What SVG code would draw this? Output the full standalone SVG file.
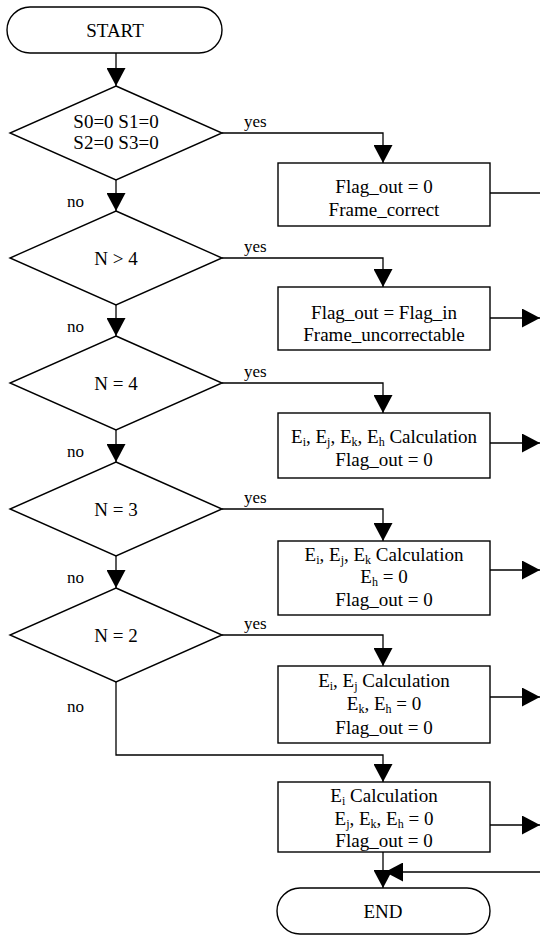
<svg xmlns="http://www.w3.org/2000/svg" width="540" height="937" viewBox="0 0 540 937">
<style>
.sh{fill:#fff;stroke:#000;stroke-width:1.4}
.t{font-family:"Liberation Serif","Times New Roman",serif;font-size:19px;fill:#000;text-anchor:middle}
.lb{font-family:"Liberation Serif","Times New Roman",serif;font-size:17px;fill:#000}
.c{fill:none;stroke:#000;stroke-width:1.3}
.s{font-size:12px}
</style>
<defs>
<marker id="ah" markerUnits="userSpaceOnUse" viewBox="0 0 18 19" markerWidth="18" markerHeight="19" refX="18" refY="9.5" orient="auto">
<path d="M0,0 L18,9.5 L0,19 z" fill="#000"/>
</marker>
</defs>
<rect width="540" height="937" fill="#fff"/>
<g id="connectors">
<line class="c" x1="116" y1="53" x2="116" y2="86" marker-end="url(#ah)"/>
<line class="c" x1="116" y1="180" x2="116" y2="211" marker-end="url(#ah)"/>
<line class="c" x1="116" y1="305" x2="116" y2="336" marker-end="url(#ah)"/>
<line class="c" x1="116" y1="430" x2="116" y2="462" marker-end="url(#ah)"/>
<line class="c" x1="116" y1="556" x2="116" y2="588" marker-end="url(#ah)"/>
<polyline class="c" points="222,133 383,133 383,163" marker-end="url(#ah)"/>
<polyline class="c" points="222,258 383,258 383,287" marker-end="url(#ah)"/>
<polyline class="c" points="222,383 383,383 383,413" marker-end="url(#ah)"/>
<polyline class="c" points="222,509 383,509 383,541" marker-end="url(#ah)"/>
<polyline class="c" points="222,635 383,635 383,666" marker-end="url(#ah)"/>
<polyline class="c" points="116,682 116,755 383,755 383,782" marker-end="url(#ah)"/>
<line class="c" x1="490" y1="193" x2="540" y2="193"/>
<line class="c" x1="490" y1="318" x2="540" y2="318" marker-end="url(#ah)"/>
<line class="c" x1="490" y1="443" x2="540" y2="443" marker-end="url(#ah)"/>
<line class="c" x1="490" y1="570" x2="540" y2="570" marker-end="url(#ah)"/>
<line class="c" x1="490" y1="697" x2="540" y2="697" marker-end="url(#ah)"/>
<line class="c" x1="490" y1="825" x2="540" y2="825" marker-end="url(#ah)"/>
<line class="c" x1="383" y1="852" x2="383" y2="888" marker-end="url(#ah)"/>
<line class="c" x1="540" y1="872" x2="385" y2="872" marker-end="url(#ah)"/>
<text class="lb" x="244" y="127">yes</text>
<text class="lb" x="244" y="252">yes</text>
<text class="lb" x="244" y="377">yes</text>
<text class="lb" x="244" y="503">yes</text>
<text class="lb" x="244" y="629">yes</text>
<text class="lb" x="67" y="207">no</text>
<text class="lb" x="67" y="332">no</text>
<text class="lb" x="67" y="457">no</text>
<text class="lb" x="67" y="583">no</text>
<text class="lb" x="67" y="712">no</text>
</g>
<g id="start">
<rect class="sh" x="7" y="7" width="215" height="46" rx="23" ry="23"/>
<text class="t" x="115" y="37">START</text>
</g>
<g id="d1">
<polygon class="sh" points="116,86 222,133 116,180 10,133"/>
<text class="t" x="116" y="128">S0=0 S1=0</text>
<text class="t" x="116" y="149">S2=0 S3=0</text>
</g>
<g id="b1">
<rect class="sh" x="278" y="163" width="212" height="63"/>
<text class="t" x="384" y="193">Flag_out = 0</text>
<text class="t" x="384" y="216">Frame_correct</text>
</g>
<g id="d2">
<polygon class="sh" points="116,211 222,258 116,305 10,258"/>
<text class="t" x="116" y="265">N &gt; 4</text>
</g>
<g id="b2">
<rect class="sh" x="278" y="287" width="212" height="63"/>
<text class="t" x="384" y="319">Flag_out = Flag_in</text>
<text class="t" x="384" y="341">Frame_uncorrectable</text>
</g>
<g id="d3">
<polygon class="sh" points="116,336 222,383 116,430 10,383"/>
<text class="t" x="116" y="390">N = 4</text>
</g>
<g id="b3">
<rect class="sh" x="278" y="413" width="212" height="65"/>
<text class="t" x="384" y="443">E<tspan class="s" dy="3">i</tspan><tspan dy="-3">, E</tspan><tspan class="s" dy="3">j</tspan><tspan dy="-3">, E</tspan><tspan class="s" dy="3">k</tspan><tspan dy="-3">, E</tspan><tspan class="s" dy="3">h</tspan><tspan dy="-3"> Calculation</tspan></text>
<text class="t" x="384" y="466">Flag_out = 0</text>
</g>
<g id="d4">
<polygon class="sh" points="116,462 222,509 116,556 10,509"/>
<text class="t" x="116" y="516">N = 3</text>
</g>
<g id="b4">
<rect class="sh" x="278" y="541" width="212" height="74"/>
<text class="t" x="384" y="561">E<tspan class="s" dy="3">i</tspan><tspan dy="-3">, E</tspan><tspan class="s" dy="3">j</tspan><tspan dy="-3">, E</tspan><tspan class="s" dy="3">k</tspan><tspan dy="-3"> Calculation</tspan></text>
<text class="t" x="384" y="583">E<tspan class="s" dy="3">h</tspan><tspan dy="-3"> = 0</tspan></text>
<text class="t" x="384" y="606">Flag_out = 0</text>
</g>
<g id="d5">
<polygon class="sh" points="116,588 222,635 116,682 10,635"/>
<text class="t" x="116" y="642">N = 2</text>
</g>
<g id="b5">
<rect class="sh" x="278" y="666" width="212" height="77"/>
<text class="t" x="384" y="687">E<tspan class="s" dy="3">i</tspan><tspan dy="-3">, E</tspan><tspan class="s" dy="3">j</tspan><tspan dy="-3"> Calculation</tspan></text>
<text class="t" x="384" y="710">E<tspan class="s" dy="3">k</tspan><tspan dy="-3">, E</tspan><tspan class="s" dy="3">h</tspan><tspan dy="-3"> = 0</tspan></text>
<text class="t" x="384" y="734">Flag_out = 0</text>
</g>
<g id="b6">
<rect class="sh" x="278" y="782" width="212" height="70"/>
<text class="t" x="384" y="802">E<tspan class="s" dy="3">i</tspan><tspan dy="-3"> Calculation</tspan></text>
<text class="t" x="384" y="825">E<tspan class="s" dy="3">j</tspan><tspan dy="-3">, E</tspan><tspan class="s" dy="3">k</tspan><tspan dy="-3">, E</tspan><tspan class="s" dy="3">h</tspan><tspan dy="-3"> = 0</tspan></text>
<text class="t" x="384" y="847">Flag_out = 0</text>
</g>
<g id="end">
<rect class="sh" x="277" y="888" width="213" height="46" rx="23" ry="23"/>
<text class="t" x="383" y="918">END</text>
</g>
</svg>
